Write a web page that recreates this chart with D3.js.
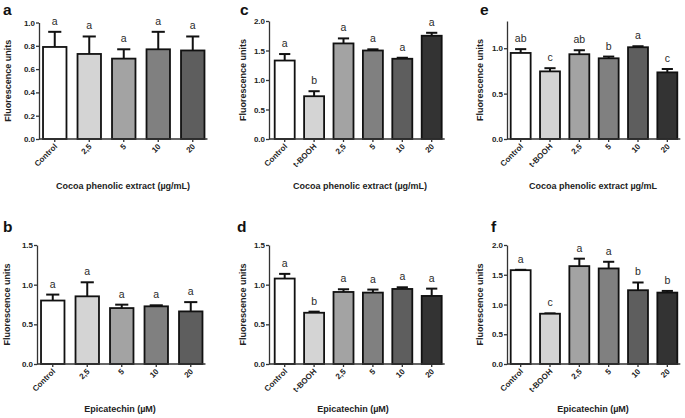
<!DOCTYPE html>
<html><head><meta charset="utf-8">
<script src="https://cdn.jsdelivr.net/npm/d3@7"></script>
<style>body{margin:0;background:#fff}svg{display:block}</style>
</head><body>
<svg id="c" width="685" height="418"></svg>
<script>
// ---- data ----
const catsExtract = ["Control", "2,5", "5", "10", "20"];
const catsTbhp = ["Control", "t-BOOH", "2,5", "5", "10", "20"];

const meanA = [0.79, 0.73, 0.69, 0.77, 0.76];
const semA  = [0.13, 0.15, 0.08, 0.15, 0.12];
const sigA  = ["a", "a", "a", "a", "a"];

const meanB = [0.80, 0.853, 0.705, 0.727, 0.663];
const semB  = [0.075, 0.177, 0.043, 0.013, 0.117];
const sigB  = ["a", "a", "a", "a", "a"];

const meanC = [1.33, 0.725, 1.62, 1.50, 1.36, 1.75];
const semC  = [0.11, 0.085, 0.085, 0.02, 0.017, 0.05];
const sigC  = ["a", "b", "a", "a", "a", "a"];

const meanD = [1.077, 0.646, 0.908, 0.90, 0.946, 0.858];
const semD  = [0.059, 0.014, 0.034, 0.038, 0.021, 0.092];
const sigD  = ["a", "b", "a", "a", "a", "a"];

const meanE = [0.948, 0.745, 0.934, 0.889, 1.011, 0.734];
const semE  = [0.042, 0.035, 0.044, 0.019, 0.011, 0.037];
const sigE  = ["ab", "c", "ab", "b", "a", "c"];

const meanF = [1.577, 0.845, 1.645, 1.606, 1.24, 1.20];
const semF  = [0.006, 0.006, 0.125, 0.112, 0.13, 0.028];
const sigF  = ["a", "c", "a", "a", "b", "b"];

const ticksA = [0, 0.2, 0.4, 0.6, 0.8, 1.0];
const ticksB = [0, 0.5, 1.0, 1.5];
const ticksC = [0, 0.5, 1.0, 1.5, 2.0];
const ticksE = [0, 0.5, 1.0];

const xTitleExtract1 = "Cocoa phenolic extract (\u00b5g/mL)";
const xTitleExtract2 = "Cocoa phenolic extract \u00b5g/mL";
const xTitleEpi = "Epicatechin (\u00b5M)";
const yTitle = "Fluorescence units";

const fills5 = ["#ffffff", "#d4d4d4", "#a3a3a3", "#808080", "#5e5e5e"];
const fills6 = ["#ffffff", "#d4d4d4", "#a3a3a3", "#808080", "#5e5e5e", "#333333"];

// ---- layout ----
const panels = [
  {id:"a", cats:catsExtract, mean:meanA, sem:semA, sig:sigA, ticks:ticksA, ymax:1.0, fills:fills5,
   ax:39, x0:37.5, x1:210, y0:139, y1:22.5, xt:xTitleExtract1, xtx:123, xty:189, ytx:11, lx:3, ly:14.5},
  {id:"c", cats:catsTbhp, mean:meanC, sem:semC, sig:sigC, ticks:ticksC, ymax:2.0, fills:fills6,
   ax:269, x0:270, x1:446.4, y0:139, y1:21, xt:xTitleExtract1, xtx:360, xty:189, ytx:246, lx:240, ly:14.5},
  {id:"e", cats:catsTbhp, mean:meanE, sem:semE, sig:sigE, ticks:ticksE, ymax:1.3, fills:fills6,
   ax:507, x0:506, x1:682, y0:139, y1:21, xt:xTitleExtract2, xtx:593, xty:189, ytx:483, lx:480, ly:14.5},
  {id:"b", cats:catsExtract, mean:meanB, sem:semB, sig:sigB, ticks:ticksB, ymax:1.5, fills:fills5,
   ax:37, x0:35.5, x1:208, y0:364, y1:245, xt:xTitleEpi, xtx:120, xty:412, ytx:10, lx:3, ly:232},
  {id:"d", cats:catsTbhp, mean:meanD, sem:semD, sig:sigD, ticks:ticksB, ymax:1.5, fills:fills6,
   ax:269, x0:270, x1:446.4, y0:364, y1:245, xt:xTitleEpi, xtx:353, xty:412, ytx:246, lx:237, ly:232},
  {id:"f", cats:catsTbhp, mean:meanF, sem:semF, sig:sigF, ticks:ticksC, ymax:2.0, fills:fills6,
   ax:507, x0:506, x1:682, y0:364, y1:245, xt:xTitleEpi, xtx:593, xty:412, ytx:483, lx:491, ly:232}
];

const svg = d3.select("#c");
const FONT = "'Liberation Sans', Arial, Helvetica, sans-serif";

panels.forEach(p => {
  const g = svg.append("g");
  const x = d3.scaleBand().domain(p.cats).range([p.x0, p.x1]).paddingInner(0.32).paddingOuter(0.16);
  const y = d3.scaleLinear().domain([0, p.ymax]).range([p.y0, p.y1]);
  const bw = x.bandwidth();
  const data = p.cats.map((c, i) => ({c, m: p.mean[i], s: p.sem[i], l: p.sig[i], f: p.fills[i]}));

  // error bars (upper only)
  g.selectAll("line.err").data(data).join("line")
    .attr("x1", d => x(d.c) + bw/2).attr("x2", d => x(d.c) + bw/2)
    .attr("y1", d => y(d.m)).attr("y2", d => y(d.m + d.s))
    .attr("stroke", "#111").attr("stroke-width", 2);
  g.selectAll("line.cap").data(data).join("line")
    .attr("x1", d => x(d.c) + bw/2 - bw*0.28).attr("x2", d => x(d.c) + bw/2 + bw*0.28)
    .attr("y1", d => y(d.m + d.s)).attr("y2", d => y(d.m + d.s))
    .attr("stroke", "#111").attr("stroke-width", 2);

  // bars
  g.selectAll("rect").data(data).join("rect")
    .attr("x", d => x(d.c)).attr("width", bw)
    .attr("y", d => y(d.m)).attr("height", d => y(0) - y(d.m))
    .attr("fill", d => d.f).attr("stroke", "#111").attr("stroke-width", 1.8);

  // significance letters
  g.selectAll("text.sig").data(data).join("text")
    .attr("x", d => x(d.c) + bw/2).attr("y", d => y(d.m + d.s) - 7)
    .attr("text-anchor", "middle").attr("font-family", FONT).attr("font-size", 10.5)
    .attr("fill", "#2a2a2a").text(d => d.l);

  // y axis
  const ya = g.append("g").attr("transform", `translate(${p.ax},0)`)
    .call(d3.axisLeft(y).tickValues(p.ticks).tickFormat(d3.format(".1f")).tickSize(3).tickSizeOuter(0));
  ya.select(".domain").attr("stroke", "#333").attr("stroke-width", 1.3);
  ya.selectAll(".tick line").attr("stroke", "#333").attr("stroke-width", 1.3);
  ya.selectAll(".tick text").attr("font-family", FONT).attr("font-size", 8).attr("font-weight", "bold")
    .attr("fill", "#222").attr("x", -4);

  // x axis
  const xa = g.append("g").attr("transform", `translate(0,${p.y0})`)
    .call(d3.axisBottom(x).tickSize(3).tickSizeOuter(0));
  xa.select(".domain").attr("d", `M${p.ax},0H${x(p.cats[p.cats.length-1]) + bw + 3}`)
    .attr("stroke", "#333").attr("stroke-width", 1.3);
  xa.selectAll(".tick line").attr("stroke", "#333").attr("stroke-width", 1.3);
  xa.selectAll(".tick text").attr("font-family", FONT).attr("font-size", 8).attr("font-weight", "bold")
    .attr("fill", "#222").attr("text-anchor", "end").attr("dy", null)
    .attr("transform", "translate(3,8) rotate(-45)").attr("y", 0).attr("x", 0);

  // titles
  g.append("text").attr("x", p.xtx).attr("y", p.xty).attr("text-anchor", "middle")
    .attr("font-family", FONT).attr("font-size", 9).attr("font-weight", "bold").attr("fill", "#222").text(p.xt);
  g.append("text").attr("transform", `translate(${p.ytx},${(p.y0 + p.y1)/2}) rotate(-90)`)
    .attr("text-anchor", "middle").attr("font-family", FONT).attr("font-size", 9)
    .attr("font-weight", "bold").attr("fill", "#222").text(yTitle);
  g.append("text").attr("x", p.lx).attr("y", p.ly).attr("font-family", FONT).attr("font-size", 15.5)
    .attr("font-weight", "bold").attr("fill", "#111").text(p.id);
});
</script>
</body></html>
